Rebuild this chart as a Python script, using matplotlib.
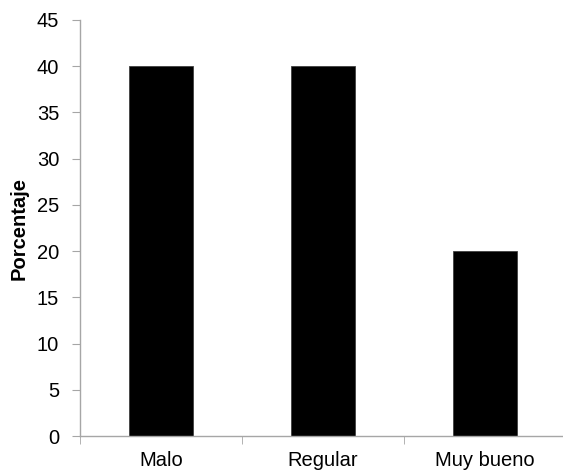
import matplotlib.pyplot as plt
import numpy as np

plt.rcParams['font.family'] = ['Liberation Sans', 'DejaVu Sans']

# Data
categories = ["Malo", "Regular", "Muy bueno"]
porcentaje = [40, 40, 20]
y_ticks = [0, 5, 10, 15, 20, 25, 30, 35, 40, 45]

axis_color = "#a6a6a6"

fig = plt.figure(figsize=(5.63, 4.71), dpi=100)
ax = fig.add_axes([80 / 563, 35 / 471, 486 / 563, 416 / 471])

x = np.arange(len(categories))
ax.bar(x, porcentaje, width=0.4, color="black", edgecolor="#404040", linewidth=0.6)

ax.set_xlim(-0.5, len(categories) - 0.5)
ax.set_ylim(0, 45)
ax.set_yticks(y_ticks)
ax.set_xticks(x)
ax.set_xticklabels(categories)
ax.set_xticks(np.arange(len(categories) + 1) - 0.5, minor=True)

for side in ["top", "right"]:
    ax.spines[side].set_visible(False)
for side in ["left", "bottom"]:
    ax.spines[side].set_color(axis_color)
    ax.spines[side].set_linewidth(1.0)

ax.tick_params(axis="y", direction="out", length=6, color=axis_color, labelsize=14.5, pad=9)
ax.tick_params(axis="x", which="major", length=0, labelsize=14.5, pad=11)
ax.tick_params(axis="x", which="minor", direction="out", length=6, color=axis_color)

ax.set_ylabel("Porcentaje", fontsize=14.5, fontweight="bold", labelpad=6)

fig.savefig("out.png", dpi=100)
